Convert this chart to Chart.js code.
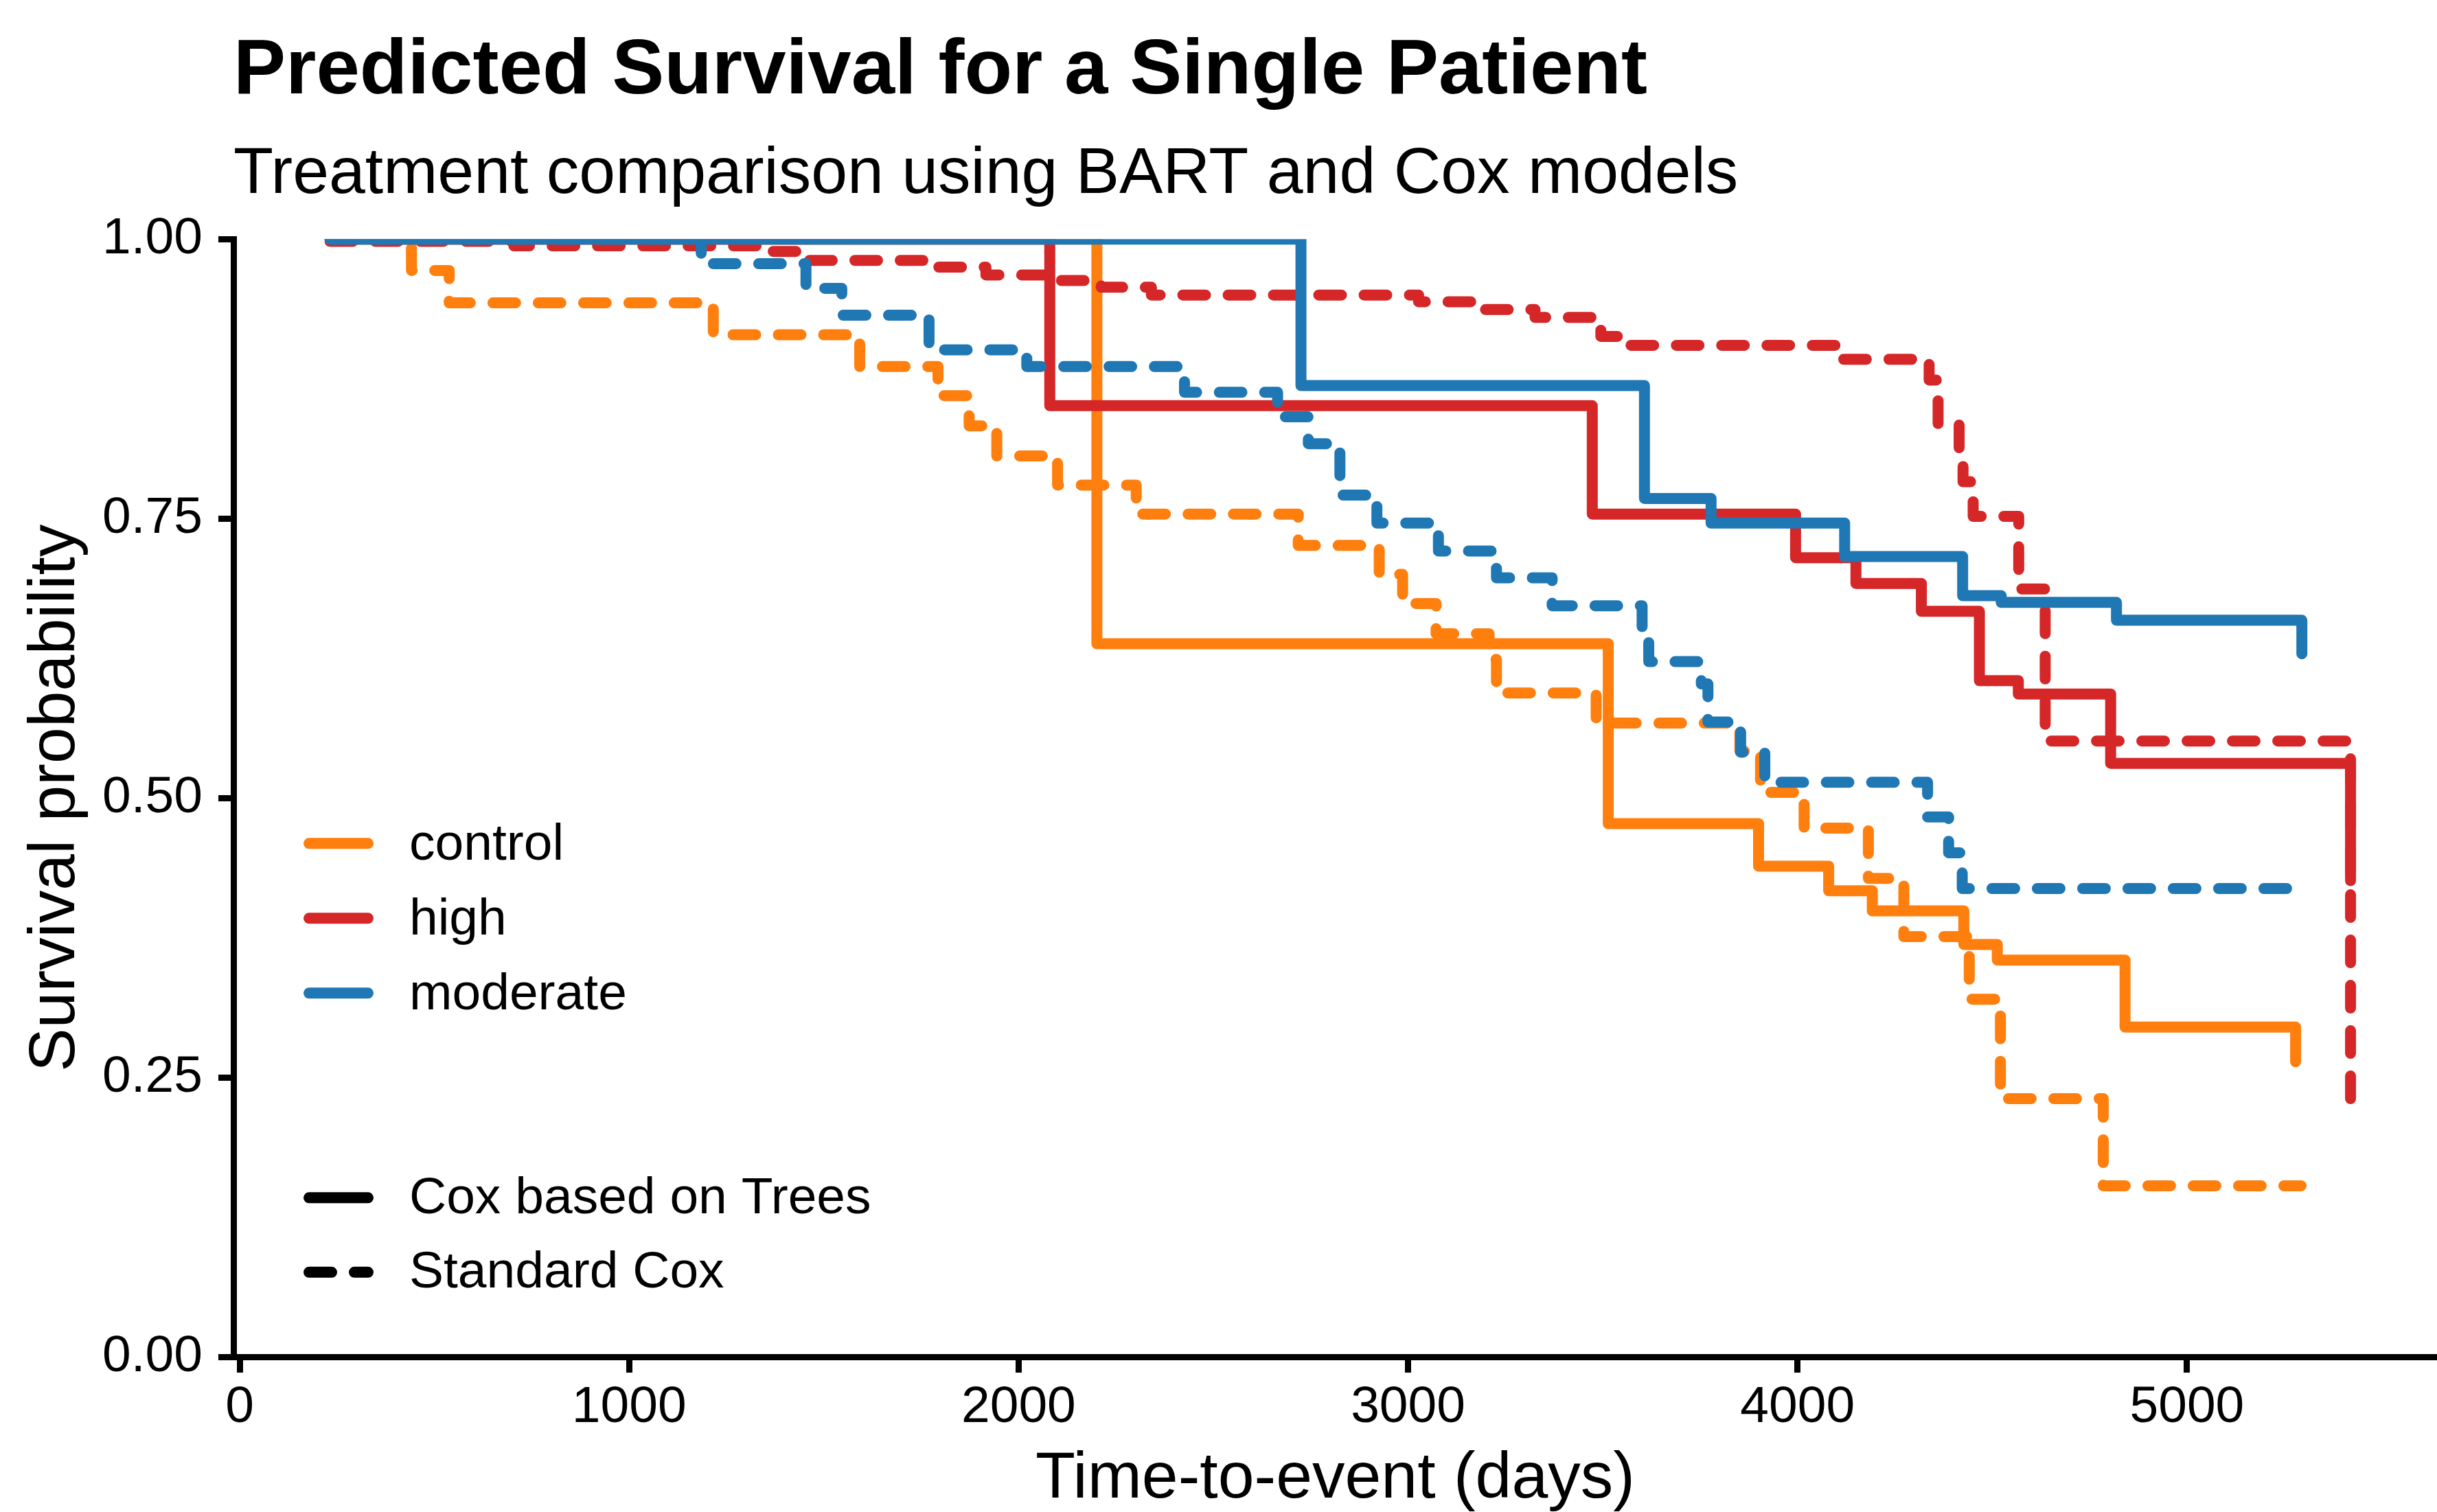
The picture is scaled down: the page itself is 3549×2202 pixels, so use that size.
<!DOCTYPE html>
<html>
<head>
<meta charset="utf-8">
<title>Predicted Survival for a Single Patient</title>
<script src="https://cdn.jsdelivr.net/npm/chart.js@4.4.1/dist/chart.umd.min.js"></script>
<style>
  html, body { margin: 0; padding: 0; background: #ffffff; }
  #survivalChart { display: block; }
</style>
</head>
<body>
<canvas id="survivalChart" width="3549" height="2202"></canvas>
<script>
// groups, colours and model types
const groups = ["control", "high", "moderate"];
const groupColors = ["#FF7F0E", "#D62728", "#1F77B4"];
const modelTypes = ["Cox based on Trees", "Standard Cox"];

// Cox based on Trees (solid lines)
const controlTreesTime = [232, 2201, 3514, 3900, 4080, 4192, 4427, 4513, 4841, 5279];
const controlTreesSurv = [1, 0.638, 0.477, 0.439, 0.417, 0.399, 0.369, 0.355, 0.295, 0.264];
const highTreesTime = [232, 2080, 3473, 3995, 4150, 4318, 4467, 4567, 4804, 5420];
const highTreesSurv = [1, 0.851, 0.754, 0.715, 0.692, 0.667, 0.605, 0.593, 0.531, 0.426];
const moderateTreesTime = [232, 2725, 3607, 3778, 4121, 4424, 4523, 4819, 5295];
const moderateTreesSurv = [1, 0.869, 0.768, 0.746, 0.716, 0.681, 0.675, 0.659, 0.629];

// Standard Cox (dashed lines)
const controlCoxTime = [232, 441, 538, 1216, 1592, 1793, 1873, 1944, 2100, 2302, 2718, 2926, 2986, 3072, 3208, 3227, 3483, 3852, 3905, 4017, 4182, 4273, 4441, 4521, 4785, 5293];
const controlCoxSurv = [1, 0.972, 0.943, 0.9145, 0.886, 0.86, 0.833, 0.806, 0.78, 0.754, 0.726, 0.7, 0.674, 0.647, 0.624, 0.594, 0.567, 0.542, 0.505, 0.473, 0.428, 0.376, 0.32, 0.231, 0.153, 0.153];
const highCoxTime = [232, 704, 1354, 1446, 1785, 1916, 2072, 2212, 2341, 3027, 3162, 3326, 3495, 3566, 4097, 4338, 4361, 4415, 4425, 4451, 4568, 4636, 5420];
const highCoxSurv = [0.998, 0.994, 0.989, 0.981, 0.975, 0.968, 0.963, 0.957, 0.95, 0.944, 0.937, 0.93, 0.913, 0.905, 0.8925, 0.874, 0.835, 0.808, 0.783, 0.752, 0.687, 0.551, 0.231];
const moderateCoxTime = [232, 1185, 1454, 1546, 1770, 2021, 2426, 2665, 2744, 2825, 2920, 3078, 3227, 3370, 3601, 3618, 3753, 3770, 3854, 3916, 4334, 4388, 4423, 5294];
const moderateCoxSurv = [1, 0.978, 0.956, 0.932, 0.901, 0.886, 0.863, 0.841, 0.817, 0.771, 0.746, 0.721, 0.697, 0.672, 0.646, 0.622, 0.602, 0.568, 0.541, 0.514, 0.483, 0.451, 0.419, 0.419];

// axis ticks
const xTicks = [0, 1000, 2000, 3000, 4000, 5000];
const yTicks = [0, 0.25, 0.5, 0.75, 1];

const fontFamily = '"Liberation Sans", Arial, Helvetica, sans-serif';
const lineW = 16;
const dashPattern = [33, 33];

Chart.defaults.font.family = fontFamily;
Chart.defaults.color = "#000000";

// series in ggplot drawing order (last one ends up on top)
const seriesList = [
    { group: 0, model: 0, time: controlTreesTime, surv: controlTreesSurv },
    { group: 0, model: 1, time: controlCoxTime, surv: controlCoxSurv },
    { group: 1, model: 0, time: highTreesTime, surv: highTreesSurv },
    { group: 1, model: 1, time: highCoxTime, surv: highCoxSurv },
    { group: 2, model: 0, time: moderateTreesTime, surv: moderateTreesSurv },
    { group: 2, model: 1, time: moderateCoxTime, surv: moderateCoxSurv }
];

const datasets = seriesList.map((s, i) => ({
    label: groups[s.group] + " - " + modelTypes[s.model],
    data: s.time.map((t, j) => ({ x: t, y: s.surv[j] })),
    borderColor: groupColors[s.group],
    backgroundColor: groupColors[s.group],
    borderWidth: lineW,
    borderDash: s.model === 1 ? dashPattern : [],
    borderCapStyle: "round",
    borderJoinStyle: "round",
    stepped: true,
    fill: false,
    pointRadius: 0,
    clip: 0,
    order: seriesList.length - i
}));

// legend drawn inside the panel, two blocks like ggplot
const panelLegend = {
    id: "panelLegend",
    afterDraw(chart) {
        const { ctx, chartArea } = chart;
        const keyLeft = chartArea.left + 110;
        const keyRight = chartArea.left + 196;
        const textX = chartArea.left + 256;
        ctx.save();
        ctx.lineWidth = lineW;
        ctx.lineCap = "round";
        ctx.font = "75px " + fontFamily;
        ctx.textBaseline = "middle";
        ctx.textAlign = "left";
        ctx.fillStyle = "#000000";

        groups.forEach((g, i) => {
            const y = chartArea.top + 880 + i * 109;
            ctx.strokeStyle = groupColors[i];
            ctx.setLineDash([]);
            ctx.beginPath();
            ctx.moveTo(keyLeft, y);
            ctx.lineTo(keyRight, y);
            ctx.stroke();
            ctx.fillText(g, textX, y + 3);
        });

        modelTypes.forEach((m, i) => {
            const y = chartArea.top + 1396 + i * 108.5;
            ctx.strokeStyle = "#000000";
            ctx.setLineDash(i === 0 ? [] : dashPattern);
            ctx.beginPath();
            ctx.moveTo(keyLeft, y);
            ctx.lineTo(keyRight, y);
            ctx.stroke();
            ctx.fillText(m, textX, y + 2);
        });
        ctx.restore();
    }
};

const ctx = document.getElementById("survivalChart").getContext("2d");

new Chart(ctx, {
    type: "line",
    data: { datasets },
    options: {
        responsive: false,
        animation: false,
        devicePixelRatio: 1,
        layout: { padding: { left: 0, right: 0, top: 0, bottom: 0 } },
        plugins: {
            legend: { display: false },
            tooltip: { enabled: false },
            title: {
                display: true,
                text: "Predicted Survival for a Single Patient",
                align: "start",
                fullSize: false,
                color: "#000000",
                font: { family: fontFamily, size: 114, weight: "bold", lineHeight: 1.2 },
                padding: { top: 36, bottom: 0 }
            },
            subtitle: {
                display: true,
                text: "Treatment comparison using BART and Cox models",
                align: "start",
                fullSize: false,
                color: "#000000",
                font: { family: fontFamily, size: 95, weight: "normal", lineHeight: 1.2 },
                padding: { top: 25, bottom: 36.5 }
            }
        },
        scales: {
            x: {
                type: "linear",
                min: -16,
                max: 5642,
                afterFit: (scale) => { scale.height = 226; },
                afterBuildTicks: (scale) => { scale.ticks = xTicks.map(v => ({ value: v })); },
                grid: {
                    display: true,
                    drawOnChartArea: false,
                    drawTicks: true,
                    tickLength: 23,
                    tickWidth: 9,
                    tickColor: "#000000"
                },
                border: { display: true, color: "#000000", width: 9 },
                ticks: {
                    color: "#000000",
                    font: { family: fontFamily, size: 75 },
                    padding: 6,
                    maxRotation: 0,
                    autoSkip: false,
                    callback: (v) => String(v)
                },
                title: {
                    display: true,
                    text: "Time-to-event (days)",
                    color: "#000000",
                    font: { family: fontFamily, size: 95, lineHeight: 1 },
                    padding: { top: 0, bottom: 0 }
                }
            },
            y: {
                type: "linear",
                min: 0,
                max: 1,
                afterFit: (scale) => { scale.width = 340; },
                afterBuildTicks: (scale) => { scale.ticks = yTicks.map(v => ({ value: v })); },
                grid: {
                    display: true,
                    drawOnChartArea: false,
                    drawTicks: true,
                    tickLength: 22,
                    tickWidth: 9,
                    tickColor: "#000000"
                },
                border: { display: true, color: "#000000", width: 9 },
                ticks: {
                    color: "#000000",
                    font: { family: fontFamily, size: 75 },
                    padding: 23,
                    autoSkip: false,
                    callback: (v) => Number(v).toFixed(2)
                },
                title: {
                    display: true,
                    text: "Survival probability",
                    color: "#000000",
                    font: { family: fontFamily, size: 95, lineHeight: 1 },
                    padding: { top: 34, bottom: 0 }
                }
            }
        }
    },
    plugins: [panelLegend]
});
</script>
</body>
</html>
